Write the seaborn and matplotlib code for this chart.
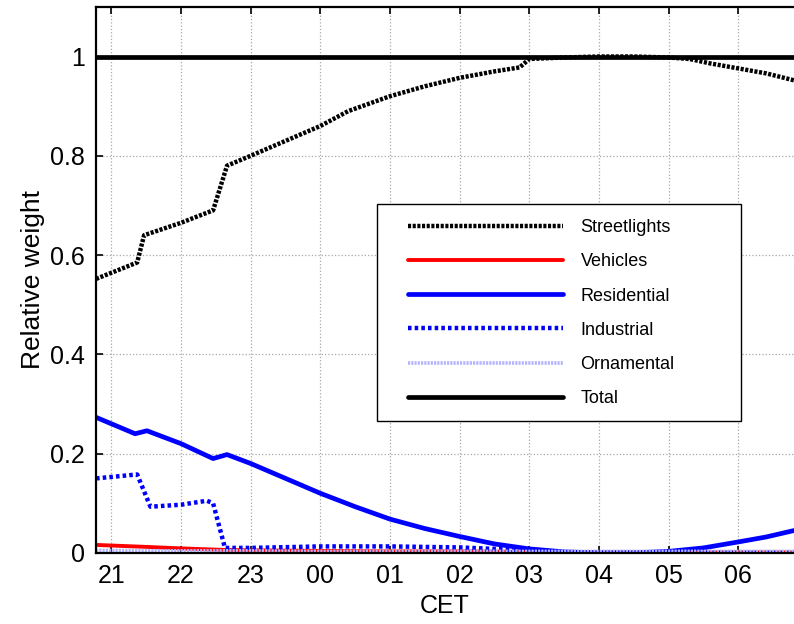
import matplotlib
matplotlib.use("Agg")
import matplotlib.pyplot as plt
import seaborn as sns
from matplotlib.patches import Rectangle

# horas (21 = 21h, 24 = 00h, 30 = 06h)
sl_x = [20.78, 21.37, 21.47, 22.0, 22.46, 22.66, 23.0, 23.5, 24.0, 24.4, 25.0, 25.5,
        26.0, 26.5, 26.86, 27.0, 27.5, 28.0, 28.5, 29.0, 29.3, 29.6, 30.0, 30.4, 30.8]
sl_y = [0.552, 0.585, 0.640, 0.665, 0.690, 0.780, 0.800, 0.830, 0.860, 0.890, 0.920, 0.940,
        0.957, 0.970, 0.978, 0.995, 0.998, 1.0, 1.0, 0.998, 0.995, 0.986, 0.976, 0.966, 0.952]

veh_x = [20.78, 21.5, 22.0, 22.6, 23.0, 24.0, 25.0, 26.0, 27.0, 28.0, 29.0, 30.0, 30.8]
veh_y = [0.016, 0.012, 0.009, 0.006, 0.005, 0.004, 0.003, 0.003, 0.002, 0.001, 0.001, 0.001, 0.001]

res_x = [20.78, 21.34, 21.51, 22.0, 22.46, 22.66, 23.0, 23.5, 24.0, 24.5, 25.0, 25.5,
         26.0, 26.5, 27.0, 27.5, 28.0, 28.5, 29.0, 29.5, 30.0, 30.4, 30.8]
res_y = [0.273, 0.240, 0.246, 0.220, 0.190, 0.198, 0.180, 0.150, 0.120, 0.093, 0.068, 0.049,
         0.033, 0.018, 0.008, 0.002, 0.0, 0.0, 0.003, 0.010, 0.022, 0.032, 0.045]

ind_x = [20.78, 21.37, 21.56, 22.0, 22.37, 22.46, 22.63, 23.0, 24.0, 25.0, 26.0, 26.5,
         27.0, 27.5, 28.0, 29.0, 30.0, 30.8]
ind_y = [0.150, 0.158, 0.093, 0.097, 0.105, 0.100, 0.010, 0.010, 0.013, 0.013, 0.011, 0.008,
         0.004, 0.001, 0.0, 0.0, 0.0, 0.0]

orn_x = [20.78, 22.0, 23.0, 24.0, 25.0, 26.0, 27.0, 28.0, 29.0, 30.0, 30.8]
orn_y = [0.005, 0.004, 0.004, 0.003, 0.003, 0.003, 0.003, 0.003, 0.003, 0.003, 0.003]

tot_x = [20.78, 30.8]
tot_y = [1.0, 1.0]

xticks = [21, 22, 23, 24, 25, 26, 27, 28, 29, 30]
xticklabels = ['21', '22', '23', '00', '01', '02', '03', '04', '05', '06']
yticks = [0, 0.2, 0.4, 0.6, 0.8, 1]
yticklabels = ['0', '0.2', '0.4', '0.6', '0.8', '1']

sns.set_style("ticks")
plt.rcParams['font.family'] = ['Liberation Sans', 'DejaVu Sans']
plt.rcParams['text.color'] = 'black'
plt.rcParams['axes.labelcolor'] = 'black'

fig = plt.figure(figsize=(7.94, 6.24), dpi=100)
ax = fig.add_axes([0.121, 0.114, 0.879, 0.875])

sns.lineplot(x=sl_x, y=sl_y, ax=ax, label='Streetlights', color='black', lw=3.2,
             linestyle=(0, (0.7, 0.35)))
sns.lineplot(x=veh_x, y=veh_y, ax=ax, label='Vehicles', color='red', lw=2.8)
sns.lineplot(x=res_x, y=res_y, ax=ax, label='Residential', color='blue', lw=3.4)
sns.lineplot(x=ind_x, y=ind_y, ax=ax, label='Industrial', color='blue', lw=3.2,
             linestyle=(0, (0.8, 0.7)))
sns.lineplot(x=orn_x, y=orn_y, ax=ax, label='Ornamental', color='#b4b4ff', lw=2.6,
             linestyle=(0, (0.6, 0.3)))
sns.lineplot(x=tot_x, y=tot_y, ax=ax, label='Total', color='black', lw=3.4)

ax.set_xlim(20.78, 30.8)
ax.set_ylim(0, 1.1)
ax.set_xticks(xticks)
ax.set_xticklabels(xticklabels)
ax.set_yticks(yticks)
ax.set_yticklabels(yticklabels)
ax.tick_params(direction='in', length=5, width=1.2, top=True, right=False,
               labelsize=18, pad=8, colors='black')
ax.grid(True, linestyle=':', color='#a8a8a8', lw=0.9)
ax.set_axisbelow(True)
for s in ['left', 'bottom', 'top']:
    ax.spines[s].set_linewidth(1.6)
    ax.spines[s].set_color('black')
ax.spines['right'].set_visible(False)

ax.set_xlabel('CET', fontsize=18, labelpad=4, color='black')
ax.set_ylabel('Relative weight', fontsize=19, labelpad=4, color='black')

# caja de la leyenda
ax.add_patch(Rectangle((0.4026, 0.2418), 0.5215, 0.3974, transform=ax.transAxes,
                       facecolor='white', edgecolor='black', lw=1.0, zorder=4))
leg = ax.legend(loc='upper left', bbox_to_anchor=(0.447, 0.611), frameon=False,
                fontsize=13, handlelength=8.6, handletextpad=0.95, labelspacing=0.95,
                borderpad=0, borderaxespad=0)
leg.set_zorder(5)

plt.savefig('out.png', dpi=100)
